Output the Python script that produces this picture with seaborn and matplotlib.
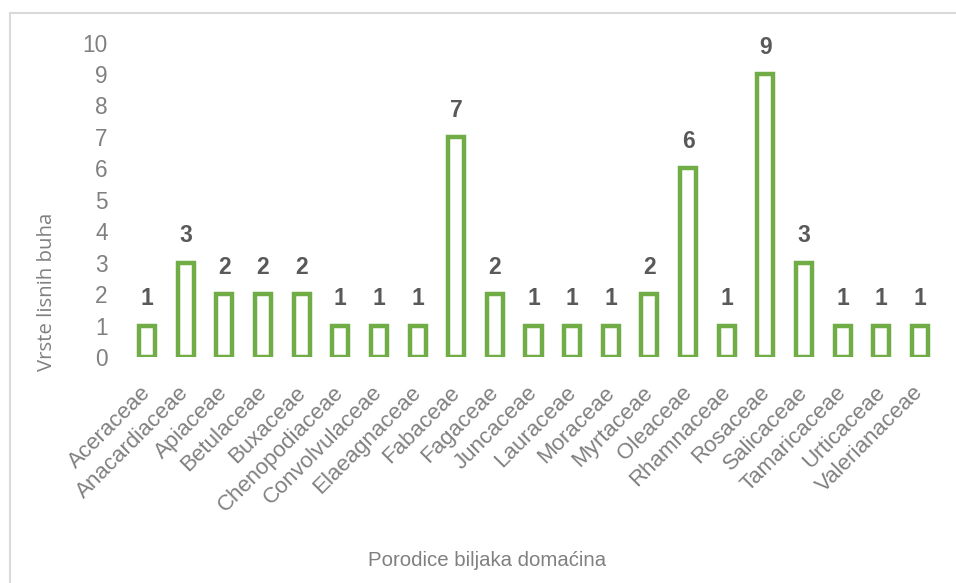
import matplotlib
matplotlib.use("Agg")
import matplotlib.pyplot as plt
import matplotlib.transforms as mtransforms
import seaborn as sns
from matplotlib.patches import Rectangle

families = ["Aceraceae", "Anacardiaceae", "Apiaceae", "Betulaceae", "Buxaceae",
            "Chenopodiaceae", "Convolvulaceae", "Elaeagnaceae", "Fabaceae", "Fagaceae",
            "Juncaceae", "Lauraceae", "Moraceae", "Myrtaceae", "Oleaceae",
            "Rhamnaceae", "Rosaceae", "Salicaceae", "Tamaricaceae", "Urticaceae",
            "Valerianaceae"]
counts = [1, 3, 2, 2, 2, 1, 1, 1, 7, 2, 1, 1, 1, 2, 6, 1, 9, 3, 1, 1, 1]
y_ticks = list(range(0, 11))

sns.set_style("white")
plt.rcParams['font.family'] = ['Liberation Sans', 'DejaVu Sans']

green = '#70AD47'
gray = '#808080'

fig = plt.figure(figsize=(9.56, 5.83), dpi=100)
ax = fig.add_axes([127.7 / 956, 1 - 357 / 583, (939.3 - 127.7) / 956, (357 - 42.6) / 583])

sns.barplot(x=families, y=counts, color='white', saturation=1, edgecolor=green,
            linewidth=3.2, width=0.415, ax=ax)

ax.set_ylim(0, 10)
ax.set_yticks(y_ticks)
ax.tick_params(axis='y', labelsize=16.3, colors=gray, length=0, pad=14.5)
ax.tick_params(axis='x', labelsize=16, colors=gray, length=0, pad=13)
sns.despine(ax=ax, left=True, bottom=True)

# shift rotated labels along their baseline (down-left), like Excel
shift = mtransforms.ScaledTranslation(-0.07, -0.07, fig.dpi_scale_trans)
for lab in ax.get_xticklabels():
    lab.set_rotation(45)
    lab.set_ha('right')
    lab.set_rotation_mode('anchor')
    lab.set_transform(lab.get_transform() + shift)

ax.bar_label(ax.containers[0], fontsize=16.5, fontweight='bold', color='#595959', padding=11)

ax.set_ylabel("Vrste lisnih buha", fontsize=14.7, color=gray, family=['Open Sans', 'DejaVu Sans'])
ax.yaxis.set_label_coords((47 - 127.7) / (939.3 - 127.7), (357 - 292) / 314.4)
ax.set_xlabel("Porodice biljaka domaćina", fontsize=14.7, color=gray)
ax.xaxis.set_label_coords((487 - 127.7) / (939.3 - 127.7), -(561 - 357) / 314.4)
ax.xaxis.label.set_va('center')
ax.yaxis.label.set_va('center')

fig.patches.append(Rectangle((10 / 956, -0.1), 1.2, 1.1 - 13 / 583,
                             transform=fig.transFigure, fill=False,
                             edgecolor='#D9D9D9', linewidth=1.5, zorder=0))

fig.savefig("out.png", dpi=100)
